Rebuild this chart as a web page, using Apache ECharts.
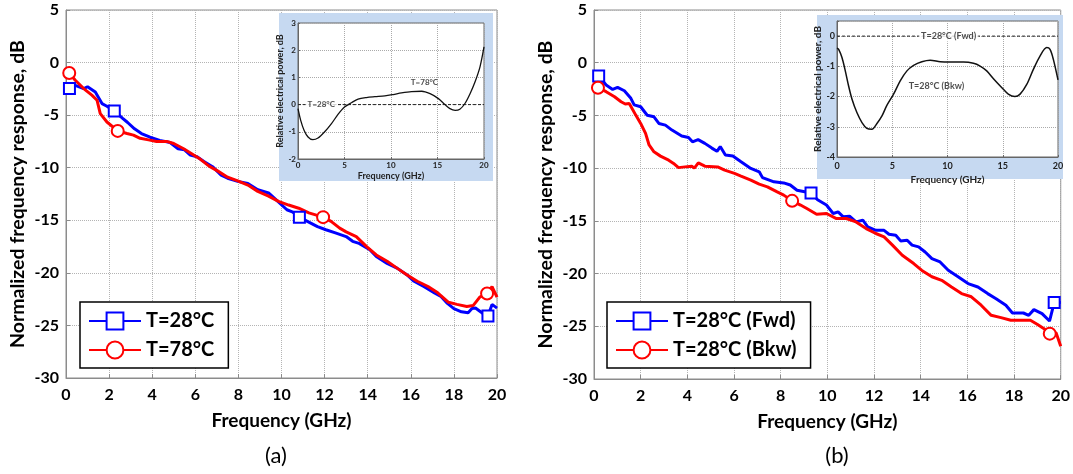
<!DOCTYPE html>
<html>
<head>
<meta charset="utf-8">
<script src="https://cdn.jsdelivr.net/npm/echarts@6/dist/echarts.min.js"></script>
<style>
  html, body { margin: 0; padding: 0; background: #fff; }
  #chart { width: 1073px; height: 474px; }
</style>
</head>
<body>
<div id="chart"></div>
<script>
// panel (a): normalized response [GHz, dB]
var a28 = [[0.16,-2.47],[0.43,-2.16],[0.82,-2.47],[1.0,-2.3],[1.36,-2.8],[1.67,-3.9],[1.9,-4.15],[2.24,-4.6],[2.63,-5.3],[2.86,-5.7],[3.18,-6.3],[3.5,-6.75],[3.9,-7.1],[4.35,-7.4],[4.83,-7.6],[5.2,-8.2],[5.5,-8.3],[5.77,-8.8],[6.08,-8.95],[6.4,-9.4],[6.8,-9.9],[7.2,-10.7],[7.5,-11.0],[7.97,-11.3],[8.44,-11.5],[8.9,-12.1],[9.4,-12.4],[9.78,-13.1],[10.25,-14.0],[10.5,-14.2],[10.83,-14.7],[11.2,-15.1],[11.67,-15.6],[12.06,-15.9],[12.5,-16.2],[13.0,-16.55],[13.3,-17.0],[13.6,-17.2],[14.1,-17.8],[14.4,-18.45],[14.9,-19.1],[15.36,-19.55],[15.83,-20.2],[16.15,-20.8],[16.6,-21.3],[17.1,-21.9],[17.4,-22.25],[17.7,-22.9],[18.0,-23.4],[18.35,-23.7],[18.66,-23.8],[18.84,-23.4],[19.0,-23.35],[19.3,-23.8],[19.58,-24.1],[19.77,-23.0],[20,-23.35]];
var a78 = [[0.15,-0.99],[0.43,-1.68],[0.82,-2.47],[1.2,-3.1],[1.44,-3.58],[1.59,-4.85],[1.9,-5.65],[2.4,-6.5],[2.83,-6.75],[3.13,-6.9],[3.44,-7.2],[3.83,-7.35],[4.2,-7.5],[4.67,-7.5],[5.0,-7.7],[5.46,-8.2],[5.85,-8.7],[6.24,-9.2],[6.64,-9.85],[7.03,-10.3],[7.5,-10.9],[7.97,-11.25],[8.44,-11.65],[8.9,-12.25],[9.4,-12.7],[9.86,-13.2],[10.33,-13.55],[10.8,-13.85],[11.27,-14.3],[11.93,-14.7],[12.3,-15.1],[12.7,-15.75],[13.0,-16.1],[13.47,-16.55],[13.95,-17.5],[14.4,-18.3],[14.9,-18.9],[15.36,-19.55],[15.83,-20.2],[16.3,-20.8],[16.8,-21.3],[17.25,-21.9],[17.75,-22.8],[18.14,-23.0],[18.6,-23.2],[18.9,-23.1],[19.2,-22.3],[19.54,-21.96],[19.77,-21.3],[20,-22.3]];
var a28Marks = [0.16, 2.24, 10.83, 19.58];
var a78Marks = [0.15, 2.4, 11.93, 19.54];

// panel (b): forward / backward at 28°C
var b28f = [[0.2,-1.26],[0.52,-2.12],[0.8,-2.53],[1.01,-2.34],[1.3,-2.66],[1.58,-3.38],[1.72,-4.0],[2.0,-4.18],[2.28,-4.98],[2.57,-5.13],[2.78,-5.76],[3.06,-5.92],[3.34,-6.39],[3.76,-6.96],[4.05,-7.09],[4.22,-7.5],[4.46,-7.3],[4.75,-7.65],[5.05,-8.1],[5.27,-8.4],[5.41,-7.95],[5.63,-8.75],[5.95,-8.85],[6.3,-9.4],[6.72,-10.03],[7.08,-10.35],[7.22,-10.9],[7.71,-11.3],[8.13,-11.4],[8.41,-11.6],[8.7,-12.1],[9.3,-12.35],[9.58,-13.0],[9.96,-13.5],[10.25,-14.3],[10.46,-14.15],[10.67,-14.6],[10.95,-14.56],[11.23,-15.1],[11.52,-14.94],[11.73,-15.57],[12.08,-15.9],[12.43,-15.9],[12.64,-16.27],[12.93,-16.36],[13.14,-16.9],[13.42,-16.84],[13.63,-17.3],[13.91,-17.47],[14.19,-17.95],[14.48,-18.58],[14.83,-18.9],[15.18,-19.69],[15.6,-20.3],[16.03,-20.95],[16.45,-21.27],[16.87,-21.9],[17.23,-22.38],[17.65,-23.0],[17.93,-23.74],[18.4,-23.74],[18.63,-23.96],[18.85,-23.42],[19.2,-23.8],[19.52,-24.5],[19.72,-22.75],[20,-22.75]];
var b28b = [[0.17,-2.37],[0.52,-2.75],[0.88,-3.23],[1.16,-3.7],[1.34,-3.92],[1.51,-3.86],[1.79,-4.97],[2.0,-5.76],[2.21,-6.7],[2.36,-7.8],[2.57,-8.45],[2.85,-8.86],[3.2,-9.24],[3.41,-9.55],[3.62,-9.95],[3.9,-9.88],[4.19,-9.82],[4.3,-10.0],[4.47,-9.5],[4.75,-9.81],[5.3,-9.88],[5.6,-10.19],[6.02,-10.5],[6.3,-10.76],[6.72,-11.14],[7.08,-11.52],[7.43,-11.77],[7.85,-12.25],[8.13,-12.56],[8.49,-13.1],[8.85,-13.5],[9.12,-13.83],[9.54,-14.37],[9.96,-14.3],[10.39,-14.78],[10.81,-14.78],[11.23,-15.1],[11.66,-15.73],[12.08,-16.2],[12.43,-16.52],[12.79,-17.3],[13.21,-18.26],[13.7,-19.05],[14.05,-19.7],[14.48,-20.3],[14.9,-20.64],[15.32,-21.27],[15.75,-21.9],[16.17,-22.2],[16.59,-23.0],[17.02,-23.96],[17.44,-24.18],[17.86,-24.43],[18.7,-24.43],[18.99,-24.8],[19.27,-25.2],[19.53,-25.7],[19.8,-25.6],[20,-26.9]];
var b28fMarks = [0.2, 9.3, 19.72];
var b28bMarks = [0.17, 8.49, 19.53];

// insets: relative electrical power [GHz, dB]
var insetA78 = [[0,-0.15],[0.29,-0.58],[0.65,-0.94],[1.08,-1.19],[1.6,-1.29],[2.15,-1.23],[2.87,-1.0],[3.6,-0.7],[4.3,-0.36],[5.0,-0.09],[5.75,0.07],[6.46,0.2],[7.36,0.26],[8.26,0.29],[9.34,0.32],[10.23,0.37],[11.13,0.43],[12.2,0.48],[13.3,0.49],[14.2,0.4],[15.1,0.22],[15.8,0.0],[16.34,-0.15],[16.9,-0.21],[17.4,-0.17],[17.95,0.04],[18.5,0.4],[19.03,0.83],[19.57,1.39],[20,2.12]];
var insetBBkw = [[0,-0.4],[0.15,-0.44],[0.45,-0.71],[0.75,-1.15],[1.05,-1.65],[1.36,-2.09],[1.8,-2.53],[2.26,-2.86],[2.7,-3.05],[3.16,-3.08],[3.6,-2.9],[4.07,-2.64],[4.5,-2.3],[5.12,-1.92],[5.72,-1.48],[6.33,-1.15],[6.93,-0.97],[7.68,-0.85],[8.43,-0.8],[9.34,-0.85],[10.24,-0.86],[11.45,-0.86],[12.35,-0.9],[12.95,-0.99],[13.55,-1.15],[14.16,-1.41],[14.9,-1.7],[15.5,-1.92],[16.1,-2.0],[16.57,-1.92],[17.17,-1.6],[17.77,-1.1],[18.37,-0.66],[18.98,-0.38],[19.28,-0.44],[19.58,-0.77],[20,-1.45]];
var insetRef = [[0,0],[20,0]];
var insetARefLabel = [[2.5,0,'T=28°C']];
var insetACurveLabel = [[13.6,0.82,'T=78°C']];
var insetBRefLabel = [[10.1,0,'T=28°C (Fwd)']];
var insetBCurveLabel = [[9.0,-1.65,'T=28°C (Bkw)']];

var FONT = 'Lato, "Open Sans", sans-serif';
var AXIS_GRAY = '#8c8c8c';

function withMarks(pts, marks) {
  return pts.map(function (p) {
    return marks.indexOf(p[0]) >= 0 ? { value: p } : { value: p, symbol: 'none' };
  });
}

function mainX(gi) {
  return {
    gridIndex: gi, type: 'value', min: 0, max: 20, interval: 2,
    name: 'Frequency (GHz)', nameLocation: 'middle', nameGap: 33,
    nameTextStyle: { fontSize: 19, fontWeight: 'bold', fontFamily: FONT, color: '#000' },
    axisLine: { onZero: false, lineStyle: { color: AXIS_GRAY, width: 1 } },
    axisTick: { inside: true, length: 4, lineStyle: { color: AXIS_GRAY } },
    axisLabel: { color: '#000', fontSize: 16, fontWeight: 'bold', fontFamily: FONT, margin: 9 },
    splitLine: { show: true, lineStyle: { color: '#b4b4b4', type: 'dotted', width: 1 } }
  };
}
function mainY(gi) {
  return {
    gridIndex: gi, type: 'value', min: -30, max: 5, interval: 5,
    name: 'Normalized frequency response, dB', nameLocation: 'middle', nameGap: 38,
    nameTextStyle: { fontSize: 19.5, fontWeight: 'bold', fontFamily: FONT, color: '#000' },
    axisLine: { show: true, onZero: false, lineStyle: { color: AXIS_GRAY, width: 1 } },
    axisTick: { show: true, inside: true, length: 4, lineStyle: { color: AXIS_GRAY } },
    axisLabel: { color: '#000', fontSize: 16, fontWeight: 'bold', fontFamily: FONT, margin: 7 },
    splitLine: { show: true, lineStyle: { color: '#b4b4b4', type: 'dotted', width: 1 } }
  };
}
function insetX(gi, fs, labelMargin, nameGap) {
  return {
    gridIndex: gi, type: 'value', min: 0, max: 20, interval: 5, z: 11,
    name: 'Frequency (GHz)', nameLocation: 'middle', nameGap: nameGap,
    nameTextStyle: { fontSize: fs + 1, fontWeight: 'bold', fontFamily: FONT, color: '#222' },
    axisLine: { onZero: false, lineStyle: { color: '#666', width: 1 } },
    axisTick: { inside: true, length: 2, lineStyle: { color: '#666' } },
    axisLabel: { color: '#222', fontSize: fs, fontWeight: 'bold', fontFamily: FONT, margin: labelMargin },
    splitLine: { show: true, lineStyle: { color: '#aaa', type: 'dotted', width: 1 } }
  };
}
function insetY(gi, fs, min, max, nameGap) {
  return {
    gridIndex: gi, type: 'value', min: min, max: max, interval: 1, z: 11,
    name: 'Relative electrical power, dB', nameLocation: 'middle', nameGap: nameGap,
    nameTextStyle: { fontSize: fs + 1, fontWeight: 'bold', fontFamily: FONT, color: '#222' },
    axisLine: { show: true, onZero: false, lineStyle: { color: '#666', width: 1 } },
    axisTick: { show: true, inside: true, length: 2, lineStyle: { color: '#666' } },
    axisLabel: {
      color: '#222', fontSize: fs, fontWeight: 'bold', fontFamily: FONT, margin: 2,
      formatter: function (v) { return Number.isInteger(v) ? String(v) : ''; }
    },
    splitLine: { show: true, lineStyle: { color: '#aaa', type: 'dotted', width: 1 } }
  };
}
function mainLine(name, color, symbol, size, pts, marks, axis) {
  return {
    name: name, type: 'line', xAxisIndex: axis, yAxisIndex: axis,
    symbol: symbol, symbolSize: size, color: color,
    lineStyle: { color: color, width: 3 },
    itemStyle: { color: color, borderWidth: 2 },
    data: withMarks(pts, marks), z: 3
  };
}
function labelSeries(axis, pts, bg, fs) {
  return {
    type: 'scatter', xAxisIndex: axis, yAxisIndex: axis, z: 13,
    symbolSize: 2, itemStyle: { color: 'rgba(0,0,0,0)' }, silent: true,
    label: {
      show: true, position: 'inside', color: '#222', fontSize: fs, fontWeight: 'bold', fontFamily: FONT,
      backgroundColor: bg, padding: [1, 2],
      formatter: function (p) { return p.value[2]; }
    },
    data: pts
  };
}

var chart = echarts.init(document.getElementById('chart'), null, { renderer: 'canvas' });
var legendText = { fontSize: 20, fontWeight: 'bold', fontFamily: FONT, color: '#000' };

chart.setOption({
  animation: false,
  backgroundColor: '#fff',
  grid: [
    { left: 66, top: 10, width: 431, height: 368, show: true, borderColor: AXIS_GRAY, borderWidth: 1 },
    { left: 594, top: 10, width: 473, height: 369, show: true, borderColor: AXIS_GRAY, borderWidth: 1 },
    { left: 298, top: 23, width: 186, height: 136, show: true, backgroundColor: '#fff', borderColor: '#666', borderWidth: 1, z: 11 },
    { left: 837, top: 21, width: 221, height: 136, show: true, backgroundColor: '#fff', borderColor: '#666', borderWidth: 1, z: 11 }
  ],
  xAxis: [mainX(0), mainX(1), insetX(2, 8, 2, 13), insetX(3, 9, 5, 18)],
  yAxis: [mainY(0), mainY(1), insetY(2, 8, -2, 3, 10), insetY(3, 9, -4, 0.5, 11)],
  legend: [
    {
      data: ['T=28°C', 'T=78°C'], orient: 'vertical', left: 80, top: 302,
      itemWidth: 52, itemHeight: 21, itemGap: 9, padding: [9, 14, 8, 8],
      borderColor: '#000', borderWidth: 1.5, backgroundColor: '#fff',
      textStyle: legendText, selectedMode: false
    },
    {
      data: ['T=28°C (Fwd)', 'T=28°C (Bkw)'], orient: 'vertical', left: 607, top: 302,
      itemWidth: 52, itemHeight: 21, itemGap: 9, padding: [9, 14, 8, 8],
      borderColor: '#000', borderWidth: 1.5, backgroundColor: '#fff',
      textStyle: legendText, selectedMode: false
    }
  ],
  graphic: [
    { type: 'rect', z: 10, shape: { x: 279, y: 13, width: 214, height: 168 }, style: { fill: '#c6d9f1' } },
    { type: 'rect', z: 10, shape: { x: 817, y: 15, width: 246, height: 164 }, style: { fill: '#c6d9f1' } },
    { type: 'text', x: 276, y: 456, style: { text: '(a)', align: 'center', verticalAlign: 'middle', fontSize: 22, fontFamily: FONT, fill: '#000' } },
    { type: 'text', x: 837, y: 456, style: { text: '(b)', align: 'center', verticalAlign: 'middle', fontSize: 22, fontFamily: FONT, fill: '#000' } }
  ],
  series: [
    mainLine('T=28°C', '#0000ff', 'emptyRect', 11, a28, a28Marks, 0),
    mainLine('T=78°C', '#ff0000', 'emptyCircle', 12, a78, a78Marks, 0),
    mainLine('T=28°C (Fwd)', '#0000ff', 'emptyRect', 11, b28f, b28fMarks, 1),
    mainLine('T=28°C (Bkw)', '#ff0000', 'emptyCircle', 12, b28b, b28bMarks, 1),
    {
      type: 'line', xAxisIndex: 2, yAxisIndex: 2, z: 12, symbol: 'none', silent: true,
      lineStyle: { color: '#222', width: 1, type: [3, 2] }, data: insetRef
    },
    {
      type: 'line', xAxisIndex: 2, yAxisIndex: 2, z: 12, symbol: 'none', smooth: 0.3, silent: true,
      lineStyle: { color: '#111', width: 1.3 }, data: insetA78
    },
    labelSeries(2, insetARefLabel, '#fff', 8),
    labelSeries(2, insetACurveLabel, 'rgba(0,0,0,0)', 8),
    {
      type: 'line', xAxisIndex: 3, yAxisIndex: 3, z: 12, symbol: 'none', silent: true,
      lineStyle: { color: '#222', width: 1, type: [3, 2] }, data: insetRef
    },
    {
      type: 'line', xAxisIndex: 3, yAxisIndex: 3, z: 12, symbol: 'none', smooth: 0.3, silent: true,
      lineStyle: { color: '#111', width: 1.5 }, data: insetBBkw
    },
    labelSeries(3, insetBRefLabel, '#fff', 9),
    labelSeries(3, insetBCurveLabel, 'rgba(0,0,0,0)', 9)
  ]
});
</script>
</body>
</html>
